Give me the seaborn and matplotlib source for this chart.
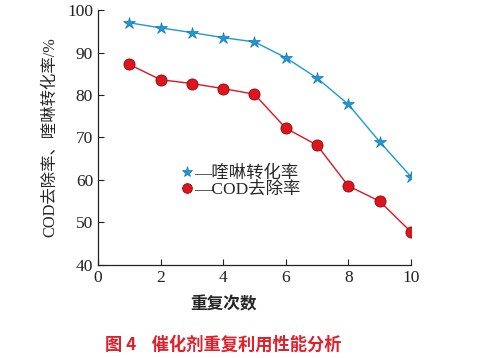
import matplotlib
matplotlib.use("Agg")
import matplotlib.pyplot as plt
import seaborn as sns
import pandas as pd

cycles = [1, 2, 3, 4, 5, 6, 7, 8, 9, 10]
quinoline = [97.0, 95.8, 94.7, 93.5, 92.5, 88.8, 84.0, 77.8, 69.0, 60.8]
cod = [87.2, 83.6, 82.7, 81.5, 80.2, 72.2, 68.2, 58.6, 55.0, 47.8]
xticks = [0, 2, 4, 6, 8, 10]
yticks = [40, 50, 60, 70, 80, 90, 100]

sns.set_style("ticks")
plt.rcParams['font.family'] = ['Liberation Serif', 'Noto Sans CJK SC']
plt.rcParams['axes.unicode_minus'] = False

df = pd.DataFrame({"x": cycles, "q": quinoline, "c": cod})

fig = plt.figure(figsize=(4.8, 3.58), dpi=100)
ax = fig.add_axes([0.204, 0.26, 0.652, 0.712])

blue = "#1a9ad6"
red = "#e0141e"
sns.lineplot(data=df, x="x", y="q", ax=ax, color=blue, marker="*", markersize=9,
             markeredgecolor="#1676b0", markeredgewidth=0.5, linewidth=1.0)
sns.lineplot(data=df, x="x", y="c", ax=ax, color=red, marker="o", markersize=8,
             markeredgecolor="#8a0a0a", markeredgewidth=0.6, linewidth=1.0)

ax.set_xlim(0, 10)
ax.set_ylim(40, 100)
ax.set_xticks(xticks)
ax.set_yticks(yticks)
ax.tick_params(direction="in", length=4, width=0.8, labelsize=12.5, colors="#222222")
for lab in ax.get_xticklabels() + ax.get_yticklabels():
    lab.set_family('Liberation Serif')
sns.despine(ax=ax)
for s in ["left", "bottom"]:
    ax.spines[s].set_linewidth(0.9)
    ax.spines[s].set_color("#222222")

ax.set_xlabel("重复次数", fontsize=12, fontweight="bold",
              family=['Noto Sans CJK SC'])
ax.xaxis.set_label_coords(0.40, -0.157)
ax.xaxis.label.set_va("center")
ax.set_ylabel("COD去除率、喹啉转化率/%", fontsize=11.8,
              family=['Liberation Serif', 'Noto Sans CJK SC'], labelpad=6)

h1 = plt.Line2D([], [], color=blue, marker="*", linestyle="none", markersize=8,
                markeredgecolor="#1676b0", markeredgewidth=0.5)
h2 = plt.Line2D([], [], color=red, marker="o", linestyle="none", markersize=7,
                markeredgecolor="#8a0a0a", markeredgewidth=0.6)
ax.legend([h1, h2], ["—喹啉转化率", "—COD去除率"], loc="upper left",
          bbox_to_anchor=(0.24, 0.425), frameon=False, handlelength=0.6,
          handletextpad=0.1, labelspacing=0.02, borderpad=0,
          prop={'family': ['Liberation Serif', 'Noto Sans CJK SC'], 'size': 12.5})

fig.text(0.466, 0.036, "图 4    催化剂重复利用性能分析", color="#e0202a",
         fontsize=12.4, fontweight="bold", ha="center", va="center",
         family=['Noto Sans CJK SC'])

fig.savefig("out.png", dpi=100)
